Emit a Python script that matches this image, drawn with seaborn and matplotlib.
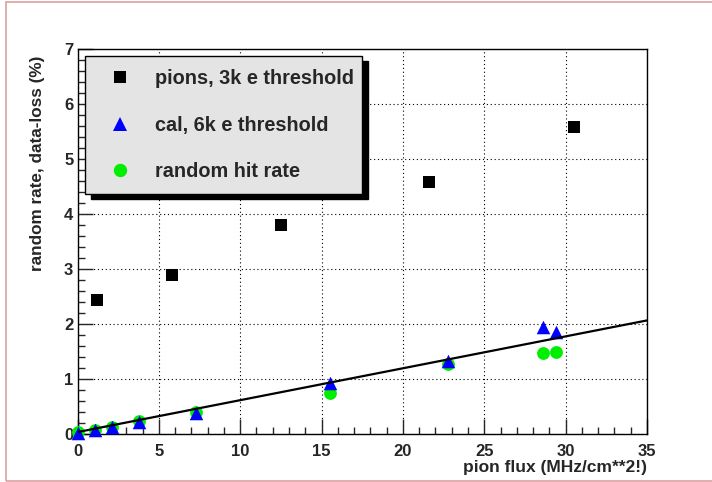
import numpy as np
import seaborn as sns
import matplotlib.pyplot as plt
from matplotlib.lines import Line2D
from matplotlib.patches import Rectangle
from matplotlib.ticker import MultipleLocator

# data
pion_flux = [1.2, 5.8, 12.5, 21.6, 30.5]
pion_rate = [2.44, 2.89, 3.80, 4.59, 5.59]

cal_flux = [0.0, 1.1, 2.1, 3.8, 7.3, 15.5, 22.8, 28.6, 29.4]
cal_rate = [0.02, 0.07, 0.12, 0.21, 0.38, 0.92, 1.33, 1.94, 1.86]

rand_flux = [0.0, 1.1, 2.1, 3.8, 7.3, 15.5, 22.8, 28.6, 29.4]
rand_rate = [0.04, 0.08, 0.13, 0.24, 0.40, 0.75, 1.28, 1.48, 1.49]

fit_x = [0.0, 35.0]
fit_y = [0.035, 2.065]

labels = ["pions, 3k e threshold", "cal, 6k e threshold", "random hit rate"]

sns.set_style("ticks")
plt.rcParams["font.family"] = ["Liberation Sans", "DejaVu Sans"]
plt.rcParams["font.weight"] = "bold"

fig = plt.figure(figsize=(7.12, 4.82), dpi=100)
fig.patch.set_facecolor("white")
# pink canvas frame
fig.patches.append(Rectangle((6 / 712, 1 / 482), 720 / 712, 479 / 482,
                             transform=fig.transFigure, fill=False,
                             edgecolor="#dca0a0", lw=1.2))

ax = fig.add_axes([77.5 / 712, 48 / 482, 569.5 / 712, 385 / 482])

sns.scatterplot(x=pion_flux, y=pion_rate, marker="s", color="black",
                s=70, linewidth=0, ax=ax, zorder=3, clip_on=False)
sns.scatterplot(x=rand_flux, y=rand_rate, marker="o", color="#00ee00",
                s=85, linewidth=0, ax=ax, zorder=3, clip_on=False)
sns.scatterplot(x=cal_flux, y=cal_rate, marker="^", color="#0000ff",
                s=95, linewidth=0, ax=ax, zorder=4, clip_on=False)
sns.lineplot(x=fit_x, y=fit_y, color="black", lw=1.6, ax=ax, zorder=5)

ax.set_xlim(0, 35)
ax.set_ylim(0, 7)
ax.xaxis.set_major_locator(MultipleLocator(5))
ax.xaxis.set_minor_locator(MultipleLocator(1))
ax.yaxis.set_major_locator(MultipleLocator(1))
ax.yaxis.set_minor_locator(MultipleLocator(0.2))
ax.tick_params(which="both", direction="in", labelsize=12, width=1,
               top=False, right=False)
ax.tick_params(which="major", length=11)
ax.tick_params(which="minor", length=5)
ax.tick_params(axis="x", pad=7)
ax.tick_params(axis="y", pad=3)
for t in ax.get_xticklabels() + ax.get_yticklabels():
    t.set_fontweight("bold")
for sp in ax.spines.values():
    sp.set_color("black")
    sp.set_linewidth(1)
ax.grid(True, which="major", color="black", lw=0.8, ls=(0, (1, 2.5)))

ax.set_xlabel("pion flux (MHz/cm**2!)", fontsize=12.5, fontweight="bold")
ax.xaxis.set_label_coords(1.0, -0.068)
ax.xaxis.label.set_horizontalalignment("right")
ax.set_ylabel("random rate, data-loss (%)", fontsize=12.3, fontweight="bold")
ax.yaxis.set_label_coords(-0.057, 0.984)
ax.yaxis.label.set_horizontalalignment("right")

# legend box with hard shadow
bx0, bx1 = (85 - 77.5) / 569.5, (362 - 77.5) / 569.5
by0, by1 = (433 - 193) / 385, (433 - 55) / 385
ax.add_patch(Rectangle((bx0 + 6 / 569.5, by0 - 5 / 385), bx1 - bx0, by1 - by0,
                       transform=ax.transAxes, facecolor="black",
                       edgecolor="black", zorder=6))
ax.add_patch(Rectangle((bx0, by0), bx1 - bx0, by1 - by0,
                       transform=ax.transAxes, facecolor="#e4e4e4",
                       edgecolor="black", lw=1, zorder=7))
handles = [
    Line2D([], [], ls="none", marker="s", color="black", markersize=8.8, mew=0),
    Line2D([], [], ls="none", marker="^", color="#0000ff", markersize=10, mew=0),
    Line2D([], [], ls="none", marker="o", color="#00ee00", markersize=9.6, mew=0),
]
leg = ax.legend(handles, labels, loc="upper left",
                bbox_to_anchor=((100 - 77.5) / 569.5, (433 - 68) / 385),
                frameon=False, borderpad=0, borderaxespad=0,
                handlelength=2.0, handletextpad=0.77, labelspacing=1.39,
                prop={"size": 14.3, "weight": "bold"})
leg.set_zorder(8)

fig.savefig("out.png", dpi=100)
plt.close(fig)
